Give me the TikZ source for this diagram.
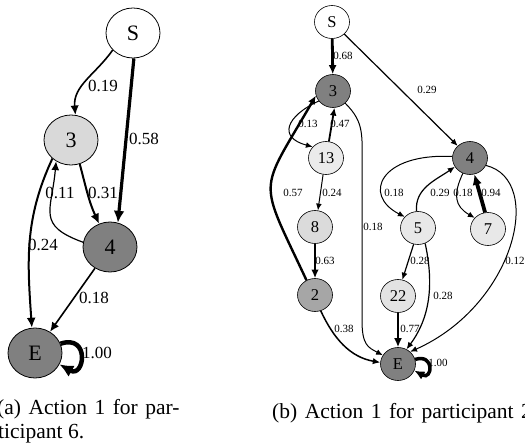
\documentclass[tikz,border=0pt]{standalone}
\usepackage{fontspec}
\setmainfont{Liberation Serif}
\usetikzlibrary{arrows.meta, shapes.geometric}
% justified caption lines have wide word gaps
\newcommand\widegaps{\spaceskip 7.5pt\relax}
\tikzset{
  % states: A = left chain, B = right chain
  stA/.style  ={draw, ellipse, minimum width=54pt, minimum height=50pt,
                inner sep=0pt, line width=0.8pt,
                font=\fontsize{22}{22}\selectfont},
  stB/.style  ={draw, ellipse, minimum width=35pt, minimum height=33pt,
                inner sep=0pt, line width=0.6pt,
                font=\fontsize{16.5}{16.5}\selectfont},
  % transitions, pen width = #1
  flowA/.style={line width=#1, -{Latex[length=7pt 1.5, width=6pt 1.5]}},
  flowB/.style={line width=#1, -{Latex[length=5.5pt 1.3, width=4.5pt 1.3]}},
  pA/.style   ={font=\fontsize{17}{17}\selectfont, inner sep=0pt},
  pB/.style   ={font=\fontsize{11}{11}\selectfont, inner sep=0pt},
  capt/.style ={font=\fontsize{21.5}{24}\selectfont, inner sep=0pt,
                anchor=base west},
  wide/.style ={font=\fontsize{21.5}{24}\selectfont\widegaps},
}

\begin{document}
\begin{tikzpicture}[x=1pt, y=1pt]
  \useasboundingbox (0,0) rectangle (525,445);

  % ---- (a) participant 6
  \node[stA, fill=white]    (s)  at (133,412) {S};
  \node[stA, fill=black!15] (n3) at (71,305)  {3};
  \node[stA, fill=black!50] (n4) at (110,198) {4};
  \node[stA, fill=black!50] (e)  at (35,92)   {E};

  \node[pA] (w-s3)  at (103,359) {0.19};
  \node[pA] (w-s4)  at (144,306) {0.58};
  \node[pA] (w-34)  at (103,252) {0.31};
  \node[pA] (w-43)  at (60,252)  {0.11};
  \node[pA] (w-3e)  at (43,200)  {0.24};
  \node[pA] (w-4e)  at (94,147)  {0.18};
  \node[pA] (w-ee)  at (97,92)   {1.00};

  \draw[flowA=1.6pt] (s.-140) to[out=-125,in=95] (n3.80);
  \draw[flowA=3.2pt] (s.-88) -- (n4.72);
  \draw[flowA=2pt]   (n3.-70) to[out=-75,in=115] (n4.115);
  \draw[flowA=1.2pt] (n4.170) to[out=160,in=-95,looseness=1.5] (n3.-125);
  \draw[flowA=2pt]   (n3.-135) to[out=-115,in=94] (e.97);
  \draw[flowA=1.6pt] (n4) -- (e);
  \draw[flowA=4.5pt] (e.20) .. controls +(30,10) and +(25,-14) .. (e.-25);

  \node[capt, wide] (capa1) at (-3,31) {(a) Action 1 for par-};
  \node[capt] (capa2) at (-2,7)  {ticipant 6.};

  % ---- (b) participant 2
  \node[stB, fill=white]    (bS)  at (332,423) {S};
  \node[stB, fill=black!50] (b3)  at (333,354) {3};
  \node[stB, fill=black!8]  (b13) at (326,287) {13};
  \node[stB, fill=black!50] (b4)  at (470,287) {4};
  \node[stB, fill=black!14] (b8)  at (315,218) {8};
  \node[stB, fill=black!9]  (b5)  at (418,217) {5};
  \node[stB, fill=black!9]  (b7)  at (488,216) {7};
  \node[stB, fill=black!35] (b2)  at (315,150) {2};
  \node[stB, fill=black!11] (b22) at (398,149) {22};
  \node[stB, fill=black!50] (bE)  at (398,81)  {E};

  \node[pB] (v-s3)   at (343,389) {0.68};
  \node[pB] (v-s4)   at (427,355) {0.29};
  \node[pB] (v-313)  at (308,321) {0.13};
  \node[pB] (v-133)  at (340,321) {0.47};
  \node[pB] (v-23)   at (293,252) {0.57};
  \node[pB] (v-138)  at (332,252) {0.24};
  \node[pB] (v-3e)   at (373,218) {0.18};
  \node[pB] (v-45)   at (394,252) {0.18};
  \node[pB] (v-54)   at (440,252) {0.29};
  \node[pB] (v-47)   at (463,252) {0.18};
  \node[pB] (v-74)   at (491,252) {0.94};
  \node[pB] (v-82)   at (325,184) {0.63};
  \node[pB] (v-522)  at (420,184) {0.28};
  \node[pB] (v-4e)   at (515,184) {0.12};
  \node[pB] (v-5e)   at (443,149) {0.28};
  \node[pB] (v-2e)   at (344,116) {0.38};
  \node[pB] (v-22e)  at (410,116) {0.77};
  \node[pB] (v-ee)   at (438,82)  {1.00};

  \draw[flowB=2.8pt] (bS) -- (b3);
  \draw[flowB=1.2pt] (bS) -- (b4);
  \draw[flowB=1pt]   (b3.-145) to[out=-155,in=165,looseness=2] (b13.140);
  \draw[flowB=1.8pt] (b13.80) -- (b3.-85);
  \draw[flowB=1pt]   (b13.-100) -- (b8.80);
  \draw[flowB=2.4pt] (b8) -- (b2);
  \draw[flowB=2.4pt] (b2.120) to[out=115,in=-120,looseness=1.6] (b3.-165);
  \draw[flowB=1pt]   (b3.-45) .. controls +(20,-20) and +(0,40) .. (362,270)
    -- (362,125) .. controls +(0,-25) and +(-15,8) .. (bE.150);
  \draw[flowB=1pt]   (b4.175) .. controls (380,292) and (362,250) .. (b5.140);
  \draw[flowB=1.2pt] (b5.95) to[out=95,in=-145] (b4.-150);
  \draw[flowB=1pt]   (b4.-115) to[out=-115,in=150,looseness=1.3] (b7.140);
  \draw[flowB=3.8pt] (b7.100) -- (b4.-75);
  \draw[flowB=1pt]   (b4.-25) .. controls (545,265) and (515,140) .. (bE.45);
  \draw[flowB=1.2pt] (b5.-105) -- (b22.75);
  \draw[flowB=1.2pt] (b5.-65) .. controls (433,165) and (432,130) .. (bE.60);
  \draw[flowB=2.8pt] (b22) -- (bE);
  \draw[flowB=1.5pt] (b2.-70) to[out=-65,in=170] (bE.175);
  \draw[flowB=3.5pt] (bE.15) .. controls +(20,6) and +(18,-10) .. (bE.-22);

  \node[capt, wide] (capb) at (272,27) {(b) Action 1 for participant 2};
\end{tikzpicture}
\end{document}
